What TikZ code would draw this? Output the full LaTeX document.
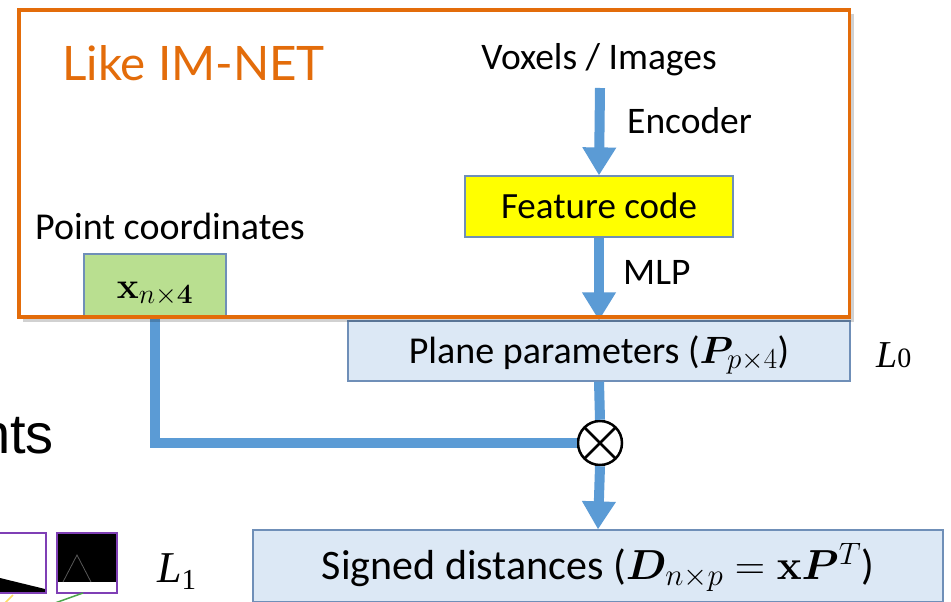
\RequirePackage{fix-cm}
\documentclass[tikz,border=0pt]{standalone}
\usepackage{amsmath}
\usepackage[no-math]{fontspec}
\usepackage{bm}
\setmainfont{Carlito}
\newfontfamily\titlefont{Lato}
\newfontfamily\seriffont{Liberation Serif}
\newfontfamily\helvfont{Liberation Sans}
\usetikzlibrary{arrows.meta}
% roomier sub- and superscripts for the large stage labels
\DeclareMathSizes{37}{37}{28}{21}
\DeclareMathSizes{38}{38}{29}{22}
\DeclareMathSizes{42}{42}{31}{23}

\definecolor{imorange}{HTML}{E36C0A}
\definecolor{flowblue}{HTML}{5B9BD5}
\definecolor{boxedge}{HTML}{6F8FB8}
\definecolor{paleblue}{HTML}{DCE8F5}
\definecolor{ptgreen}{HTML}{B9DF90}
\definecolor{featyellow}{HTML}{FFFF00}
\definecolor{thumbpurple}{HTML}{7F3FB5}

\tikzset{
  flow/.style={draw=flowblue, line width=10pt},
  flowarrow/.style={flow, -{Triangle[width=32pt,length=28pt]}},
  stagebox/.style={draw=boxedge, line width=1.2pt, inner sep=0pt,
    text height=24pt, text depth=0pt, font=\fontsize{37}{40}\selectfont},
  txt/.style={inner sep=0pt, font=\fontsize{37.5}{40}\selectfont},
}

\begin{document}
\begin{tikzpicture}[x=1pt, y=-1pt]
\useasboundingbox (0,0) rectangle (951,602);
\clip (0,0) rectangle (951,602);
\fill[white] (0,0) rectangle (951,602);

% stages
\node[stagebox, fill=featyellow, minimum width=268pt, minimum height=61pt] (feat) at (599,206.5) {Feature code};
\node[stagebox, fill=ptgreen, minimum width=142pt, minimum height=64pt] (pts) at (155,286) {$\mathbf{x}_{n\times\mathbf{4}}$};
\node[stagebox, fill=paleblue, minimum width=502pt, minimum height=60pt, font=\fontsize{38}{40}\selectfont] (plane) at (599,351) {Plane parameters ($\bm{P}_{p\times4}$)};
\node[stagebox, fill=paleblue, minimum width=690pt, minimum height=72pt, text height=27pt, font=\fontsize{42}{44}\selectfont] (sd) at (598,566) {Signed distances ($\bm{D}_{n\times p}=\mathbf{x}\bm{P}^{T}$)};

% product
\node[circle, draw, line width=2.5pt, fill=white, minimum size=44pt, inner sep=0pt,
  path picture={\draw[line width=2.5pt]
    (path picture bounding box.north west) -- (path picture bounding box.south east)
    (path picture bounding box.north east) -- (path picture bounding box.south west);}]
  (prod) at (600,443) {};

% labels
\node[txt, anchor=base] (vox) at (599,70) {Voxels / Images};
\node[txt, anchor=base west] (enc) at (627,133) {Encoder};
\node[txt, anchor=base west] (mlp) at (623,284) {MLP};
\node[txt, anchor=base west, font=\fontsize{38}{40}\selectfont] (ptlab) at (35,239) {Point coordinates};
\node[anchor=base west, inner sep=0pt, text=imorange, font=\titlefont\fontsize{47.5}{52}\selectfont] (title) at (62,81) {Like IM-NET};
\node[anchor=base west, inner sep=0pt, font=\seriffont\fontsize{38}{40}\selectfont] (lzero) at (876,367) {\textit{L}{\fontsize{28}{30}\selectfont 0}};
\node[anchor=base west, inner sep=0pt, font=\seriffont\fontsize{44}{48}\selectfont] (lone) at (157,582) {\textit{L}\raisebox{-7pt}{\fontsize{29}{32}\selectfont 1}};
\node[anchor=base east, inner sep=0pt, font=\helvfont\fontsize{56}{60}\selectfont] (nts) at (54,453) {nts};

% connectors
\coordinate (vin) at (600,88);
\draw[flowarrow] (vin) -- (feat.north);
\draw[flowarrow] (feat.south) -- (plane.north);
\draw[flow] (plane.south) -- (prod.north);
\draw[flowarrow] (prod.south) -- (sd.north);
\draw[flow] (pts.south) |- (prod.west);

% IM-NET frame with its soft shadow
\draw[black, opacity=0.18, line width=3pt] (852.5,14) -- (852.5,320) -- (23,320);
\draw[imorange, line width=3.5pt] (19,10) rectangle (849.5,317);

% thumbnails
\fill[white] (-5,533) rectangle (46,593);
\fill[black] (0,578) -- (45,589) -- (45,592) -- (0,592) -- cycle;
\draw[thumbpurple, line width=1.5pt] (-5,533) rectangle (46,593);
\fill[black] (57,533) rectangle (117,593);
\fill[white] (57,582) rectangle (117,593);
\draw[gray!70!black, line width=0.8pt] (63,582) -- (77,555) -- (91,582);
\draw[thumbpurple, line width=1.5pt] (57,533) rectangle (117,593);
\draw[yellow!60!orange!60, line width=1.5pt] (13,595) -- (4,604);
\draw[green!50!black!70, line width=1.5pt] (55,603) -- (83,593);
\end{tikzpicture}
\end{document}
